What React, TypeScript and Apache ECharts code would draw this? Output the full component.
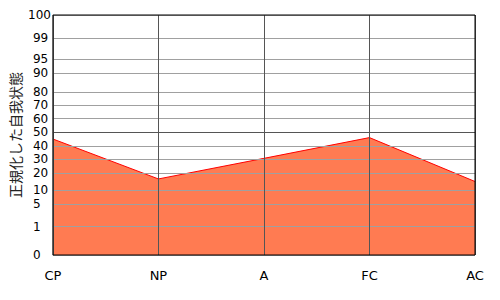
import React, { useEffect, useRef } from "react";
import * as echarts from "echarts";

// Categories and values (percentile scale 0..100)
const categories = ["CP", "NP", "A", "FC", "AC"];
const values = [45, 16.5, 30.5, 46, 15];

// Non-linear axis scale: percentile tick values and their scale units
const tickValues = [0, 1, 5, 10, 20, 30, 40, 50, 60, 70, 80, 90, 95, 99, 100];
const tickScale = [0, 28.5, 51, 65, 82, 96, 109, 123, 136.5, 150, 163, 182, 196, 217, 240];

function toScale(v: number): number {
  for (let i = 1; i < tickValues.length; i++) {
    if (v <= tickValues[i]) {
      const a = tickValues[i - 1], b = tickValues[i];
      const t = (v - a) / (b - a);
      return tickScale[i - 1] + t * (tickScale[i] - tickScale[i - 1]);
    }
  }
  return tickScale[tickScale.length - 1];
}

function labelFor(s: number): string {
  for (let i = 0; i < tickScale.length; i++) {
    if (Math.abs(tickScale[i] - s) < 1e-6) return String(tickValues[i]);
  }
  return "";
}

export default function App() {
  const ref = useRef<HTMLDivElement>(null);
  useEffect(() => {
    if (!ref.current) return;
    const chart = echarts.init(ref.current, null, { renderer: "svg" });
    const scaleMax = tickScale[tickScale.length - 1];
    const innerTicks = tickScale.filter((s) => s !== scaleMax);
    const fifty = toScale(50);
    const font = "DejaVu Sans";
    chart.setOption({
      animation: false,
      backgroundColor: "#fff",
      grid: {
        left: 50,
        right: 25,
        top: 15,
        bottom: 45,
        show: true,
        borderColor: "#000",
        borderWidth: 1,
        backgroundColor: "transparent",
        z: 10,
      },
      xAxis: {
        type: "category",
        data: categories,
        boundaryGap: false,
        z: 5,
        axisLine: { show: false },
        axisTick: { show: false },
        axisLabel: { color: "#000", fontFamily: font, fontSize: 13, margin: 14 },
        splitLine: { show: true, lineStyle: { color: "#555", width: 1 } },
      },
      yAxis: [
        {
          type: "value",
          min: 0,
          max: scaleMax,
          z: 4,
          name: "正規化した自我状態",
          nameLocation: "middle",
          nameRotate: 90,
          nameGap: 26,
          nameTextStyle: { color: "#222", fontFamily: "Noto Sans CJK JP", fontSize: 14 },
          axisLine: { show: false },
          axisTick: { show: false, customValues: tickScale },
          axisLabel: {
            customValues: innerTicks,
            align: "left",
            margin: 20,
            color: "#000",
            fontFamily: font,
            fontSize: 12,
            lineHeight: 12,
            formatter: (v: number) => labelFor(v),
          },
          splitLine: {
            show: true,
            lineStyle: {
              color: tickScale.map((s) => (s === fifty ? "#555" : "#a0a0a0")),
              width: 1,
            },
          },
        },
        {
          type: "value",
          min: 0,
          max: scaleMax,
          position: "left",
          z: 4,
          axisLine: { show: false },
          axisTick: { show: false },
          splitLine: { show: false },
          axisLabel: {
            customValues: [scaleMax],
            align: "right",
            margin: 2,
            color: "#000",
            fontFamily: font,
            fontSize: 12,
            lineHeight: 12,
            formatter: (v: number) => labelFor(v),
          },
        },
      ],
      series: [
        {
          type: "line",
          data: values.map(toScale),
          yAxisIndex: 0,
          z: 1,
          symbol: "none",
          lineStyle: { color: "#ff0000", width: 1 },
          areaStyle: { color: "#ff7b52", opacity: 1 },
        },
      ],
    });
    return () => chart.dispose();
  }, []);
  return (
    <div
      ref={ref}
      style={{ position: "fixed", left: 0, top: 0, width: 500, height: 300 }}
    />
  );
}
